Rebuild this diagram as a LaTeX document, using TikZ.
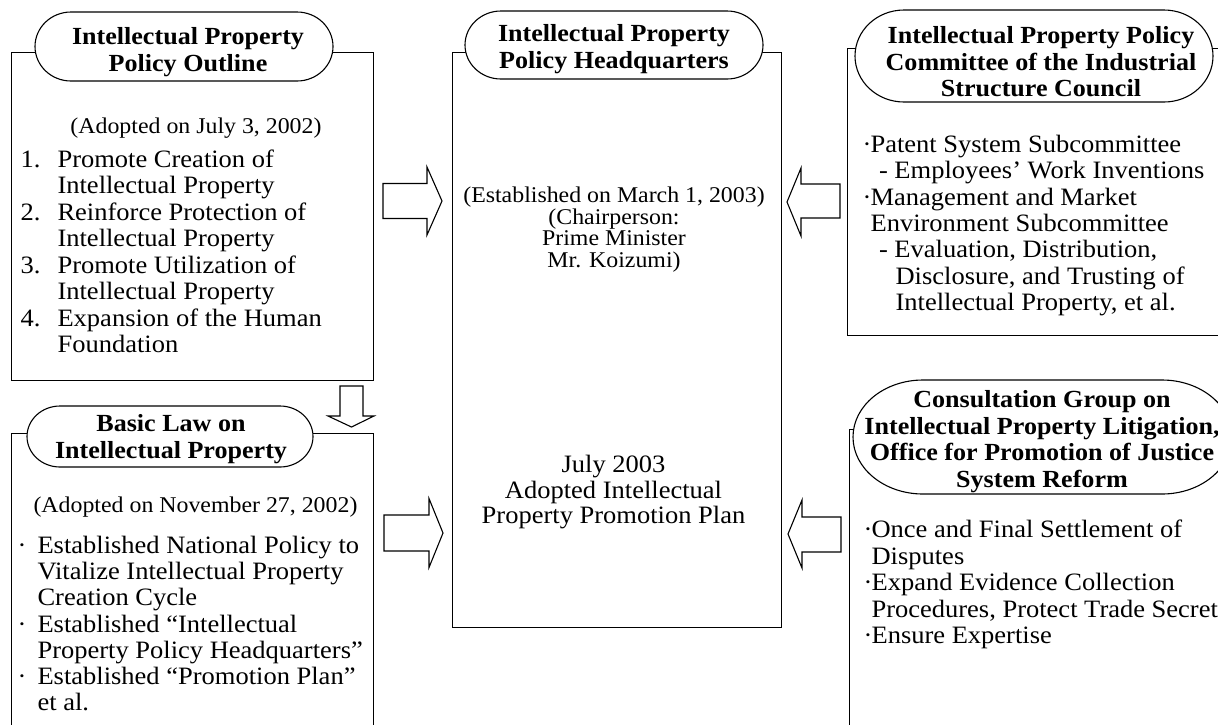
\documentclass[tikz,border=0pt]{standalone}
\usepackage{fontspec}
\setmainfont{Liberation Serif}[FakeStretch=1.06]
\usetikzlibrary{calc}
\newcommand{\itemno}[1]{\llap{\makebox[37pt][l]{#1}}}
\newcommand{\dotl}{\llap{\makebox[20pt][l]{·}}}
\newcommand{\dotr}{\llap{\makebox[8pt][l]{·}}}
\newcommand{\firstline}[1]{\rule{0pt}{#1pt}}
\newcommand{\drawoval}[5]{%
  \pgfmathsetmacro{\oym}{(#3+#4)/2}%
  \pgfmathsetmacro{\oky}{0.5523*(#4-#3)/2}%
  \pgfmathsetmacro{\okx}{0.5523*#5}%
  \pgfmathsetmacro{\oxa}{#1+#5}%
  \pgfmathsetmacro{\oxb}{#2-#5}%
  \draw[fill=white] (\oxa,#3) -- (\oxb,#3)
    .. controls ({\oxb+\okx},#3) and (#2,{\oym-\oky}) .. (#2,\oym)
    .. controls (#2,{\oym+\oky}) and ({\oxb+\okx},#4) .. (\oxb,#4)
    -- (\oxa,#4)
    .. controls ({\oxa-\okx},#4) and (#1,{\oym+\oky}) .. (#1,\oym)
    .. controls (#1,{\oym-\oky}) and ({\oxa-\okx},#3) .. (\oxa,#3) -- cycle;}
\begin{document}
\setlength{\lineskiplimit}{-30pt}
\begin{tikzpicture}[x=1pt,y=-1pt,line width=1.1pt,
  title/.style={font=\bfseries\fontsize{24.6}{26.7}\selectfont, align=center, inner sep=0pt, anchor=north},
  bodytext/.style={font=\fontsize{25}{26.35}\selectfont, align=left, inner sep=0pt, anchor=north west},
  note/.style={font=\fontsize{22.5}{24}\selectfont, align=center, inner sep=0pt, anchor=north},
  box/.style={draw, inner sep=0pt, anchor=north west},
  blockarrow/.style={draw, fill=white, line join=miter}]
\useasboundingbox (0,0) rectangle (1218,724);
\fill[white] (0,0) rectangle (1218,724);
\clip (0,0) rectangle (1218,724);

% boxes
\node[box, minimum width=362pt, minimum height=328pt] (tlBox) at (11,52) {};
\node[box, minimum width=362pt, minimum height=320pt] (blBox) at (11,433) {};
\node[box, minimum width=329pt, minimum height=575pt] (cBox) at (452,52) {};
\node[box, minimum width=390pt, minimum height=287pt] (trBox) at (847,48) {};
\node[box, minimum width=390pt, minimum height=320pt] (brBox) at (849,429) {};

% ovals
\drawoval{35}{333}{12}{81}{36}
\drawoval{465}{763}{11}{79}{36}
\drawoval{855}{1213}{10}{102}{49}
\drawoval{27}{313}{406}{467}{33}
\drawoval{853}{1232}{380}{494}{70}

% titles
\node[title] (tlT) at (188,24) {\firstline{20}Intellectual Property\\Policy Outline};
\node[title] (cT) at (614,21) {\firstline{20}Intellectual Property\\Policy Headquarters};
\node[title] (trT) at (1041,23) {\firstline{20}Intellectual Property Policy\\Committee of the Industrial\\Structure Council};
\node[title] (blT) at (171,411) {\firstline{20}Basic Law on\\Intellectual Property};
\node[title] (brT) at (1042,387) {\firstline{20}Consultation Group on\\Intellectual Property Litigation,\\Office for Promotion of Justice\\System Reform};

% top-left content
\node[note] (tlA) at (196,114) {\firstline{19}(Adopted on July 3, 2002)};
\node[bodytext, font=\fontsize{25}{26.43}\selectfont] (tlL) at (57,146) {\firstline{21}\itemno{1.}Promote Creation of\\Intellectual Property\\\itemno{2.}Reinforce Protection of\\Intellectual Property\\\itemno{3.}Promote Utilization of\\Intellectual Property\\\itemno{4.}Expansion of the Human\\Foundation};

% bottom-left content
\node[note] (blA) at (195.5,493) {\firstline{19}(Adopted on November 27, 2002)};
\node[bodytext, font=\fontsize{25}{26.17}\selectfont] (blL) at (37,532) {\firstline{21}\dotl Established National Policy to\\Vitalize Intellectual Property\\Creation Cycle\\\dotl Established “Intellectual\\Property Policy Headquarters”\\\dotl Established “Promotion Plan”\\et al.};

% center content
\node[note, font=\fontsize{22.5}{21.7}\selectfont] (cE) at (614,183) {\firstline{19}(Established on March 1, 2003)\\(Chairperson:\\Prime Minister\\Mr. Koizumi)};
\node[note, font=\fontsize{25}{25.5}\selectfont] (cP) at (613.5,451) {\firstline{21}July 2003\\Adopted Intellectual\\Property Promotion Plan};

% top-right content
\node[bodytext, font=\fontsize{25}{26.33}\selectfont] (trL) at (870,131) {\firstline{21}\dotr Patent System Subcommittee\\\hspace*{8.5pt}- Employees’ Work Inventions\\\dotr Management and Market\\Environment Subcommittee\\\hspace*{8.5pt}- Evaluation, Distribution,\\\hspace*{25pt}Disclosure, and Trusting of\\\hspace*{25pt}Intellectual Property, et al.};

% bottom-right content
\node[bodytext, font=\fontsize{25}{26.5}\selectfont] (brL) at (871,516) {\firstline{21}\dotr Once and Final Settlement of\\Disputes\\\dotr Expand Evidence Collection\\Procedures, Protect Trade Secret\\\dotr Ensure Expertise};

% block arrows
\draw[blockarrow] (383,183.5) -- (427,183.5) -- (427,167) -- (442,201) -- (427,235) -- (427,218.5) -- (383,218.5) -- cycle;
\draw[blockarrow] (384,515) -- (429,515) -- (429,498.5) -- (443,533) -- (429,567.5) -- (429,551) -- (384,551) -- cycle;
\draw[blockarrow] (840,184) -- (801,184) -- (801,168) -- (787,202) -- (801,236) -- (801,218) -- (840,218) -- cycle;
\draw[blockarrow] (841,517) -- (802,517) -- (802,500) -- (788,534) -- (802,568) -- (802,552) -- (841,552) -- cycle;
\draw[blockarrow] (340,386) -- (363,386) -- (363,416) -- (374,416) -- (351.5,427) -- (328,416) -- (340,416) -- cycle;
\end{tikzpicture}
\end{document}
